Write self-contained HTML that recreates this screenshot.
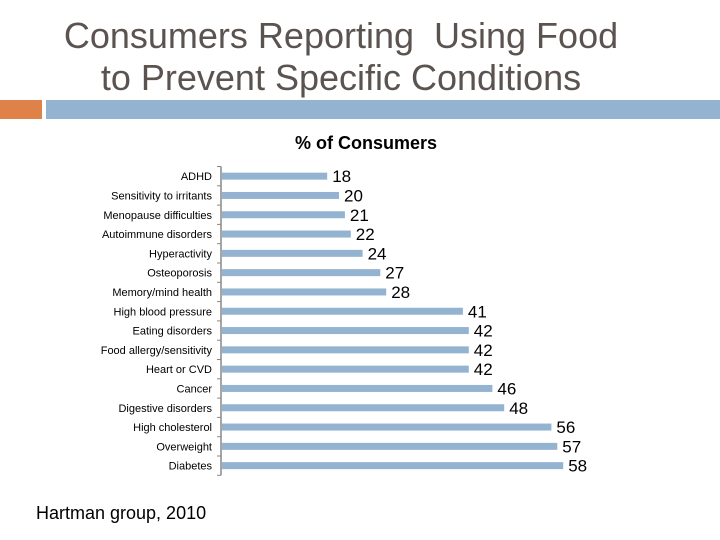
<!DOCTYPE html>
<html><head><meta charset="utf-8">
<style>
body{margin:0;width:720px;height:540px;background:#fff;overflow:hidden;font-family:"Liberation Sans",sans-serif;}
.t{position:absolute;left:0;width:682px;text-align:center;font-size:36px;color:#5b5350;line-height:36px;}
</style></head><body>
<div class="t" style="top:18px;">Consumers Reporting&nbsp; Using Food</div>
<div class="t" style="top:60px;">to Prevent Specific Conditions</div>
<div style="position:absolute;left:0;top:100px;width:42px;height:19px;background:#df8249"></div>
<div style="position:absolute;left:46px;top:100px;width:674px;height:19px;background:#94b3d1"></div>
<svg id="chart" width="720" height="540" style="position:absolute;left:0;top:0">
<text x="366" y="149" text-anchor="middle" font-size="18" font-weight="bold" font-family="Liberation Sans, sans-serif">% of Consumers</text>
</svg>
<div style="position:absolute;left:36px;top:503px;font-size:18px;color:#000">Hartman group, 2010</div>
<script>
const categories=["ADHD","Sensitivity to irritants","Menopause difficulties","Autoimmune disorders","Hyperactivity","Osteoporosis","Memory/mind health","High blood pressure","Eating disorders","Food allergy/sensitivity","Heart or CVD","Cancer","Digestive disorders","High cholesterol","Overweight","Diabetes"];
const values=[18,20,21,22,24,27,28,41,42,42,42,46,48,56,57,58];
const svg=document.getElementById('chart');
const NS='http://www.w3.org/2000/svg';
const x0=221, scale=5.9, y0=166.5, step=19.3;
function xs(v){return x0+v*scale;}
function yc(i){return y0+step*(i+0.5);}
function mk(tag,attrs){const e=document.createElementNS(NS,tag);for(const k in attrs)e.setAttribute(k,attrs[k]);svg.appendChild(e);return e;}
const ax=mk('line',{x1:x0,x2:x0,y1:y0,y2:y0+step*categories.length,stroke:'#888','stroke-width':1.5});


for(let i=0;i<=categories.length;i++){
  const tk=mk('line',{x1:x0-4,x2:x0,y1:y0+step*i,y2:y0+step*i,stroke:'#888','stroke-width':1});
  
  
}
categories.forEach((c,i)=>{
  const y=yc(i);
  const lb=mk('text',{x:212,y:y+4,'text-anchor':'end','font-size':11,'font-family':'Liberation Sans, sans-serif',fill:'#000'});
  lb.textContent=c;
  
  
  const b=mk('rect',{x:x0+1,y:y-3.5,width:xs(values[i])-x0-1,height:7,fill:'#94b3d1'});
  
  
  const v=mk('text',{x:xs(values[i])+5,y:y+6,'font-size':17,'font-family':'Liberation Sans, sans-serif',fill:'#000'});
  v.textContent=values[i];
  
  
});
</script>
</body></html>
